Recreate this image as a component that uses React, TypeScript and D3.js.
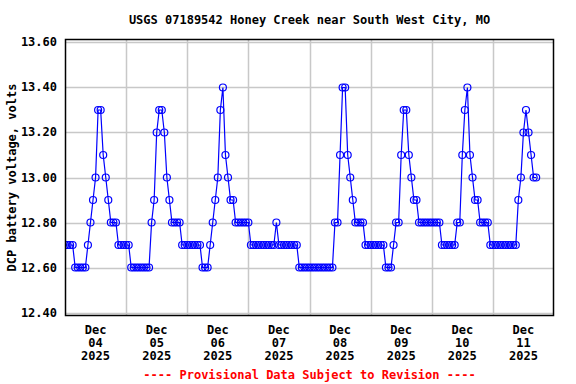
import React, { useRef, useEffect } from 'react'
import { select, scaleTime, scaleLinear, line, timeHour, timeDay } from 'd3'

// Hourly DCP battery voltage readings, one array per day
const dec04 = [12.7, 12.7, 12.7, 12.7, 12.6, 12.6, 12.6, 12.6, 12.6, 12.7, 12.8, 12.9,
    13.0, 13.3, 13.3, 13.1, 13.0, 12.9, 12.8, 12.8, 12.8, 12.7, 12.7, 12.7]
const dec05 = [12.7, 12.7, 12.6, 12.6, 12.6, 12.6, 12.6, 12.6, 12.6, 12.6, 12.8, 12.9,
    13.2, 13.3, 13.3, 13.2, 13.0, 12.9, 12.8, 12.8, 12.8, 12.8, 12.7, 12.7]
const dec06 = [12.7, 12.7, 12.7, 12.7, 12.7, 12.7, 12.6, 12.6, 12.6, 12.7, 12.8, 12.9,
    13.0, 13.3, 13.4, 13.1, 13.0, 12.9, 12.9, 12.8, 12.8, 12.8, 12.8, 12.8]
const dec07 = [12.8, 12.7, 12.7, 12.7, 12.7, 12.7, 12.7, 12.7, 12.7, 12.7, 12.7, 12.8,
    12.7, 12.7, 12.7, 12.7, 12.7, 12.7, 12.7, 12.7, 12.6, 12.6, 12.6, 12.6]
const dec08 = [12.6, 12.6, 12.6, 12.6, 12.6, 12.6, 12.6, 12.6, 12.6, 12.6, 12.8, 12.8,
    13.1, 13.4, 13.4, 13.1, 13.0, 12.9, 12.8, 12.8, 12.8, 12.8, 12.7, 12.7]
const dec09 = [12.7, 12.7, 12.7, 12.7, 12.7, 12.7, 12.6, 12.6, 12.6, 12.7, 12.8, 12.8,
    13.1, 13.3, 13.3, 13.1, 13.0, 12.9, 12.9, 12.8, 12.8, 12.8, 12.8, 12.8]
const dec10 = [12.8, 12.8, 12.8, 12.8, 12.7, 12.7, 12.7, 12.7, 12.7, 12.7, 12.8, 12.8,
    13.1, 13.3, 13.4, 13.1, 13.0, 12.9, 12.9, 12.8, 12.8, 12.8, 12.8, 12.7]
const dec11 = [12.7, 12.7, 12.7, 12.7, 12.7, 12.7, 12.7, 12.7, 12.7, 12.7, 12.9, 13.0,
    13.2, 13.3, 13.2, 13.1, 13.0, 13.0]

const dayLabels = [
    ['Dec', '04', '2025'], ['Dec', '05', '2025'], ['Dec', '06', '2025'], ['Dec', '07', '2025'],
    ['Dec', '08', '2025'], ['Dec', '09', '2025'], ['Dec', '10', '2025'], ['Dec', '11', '2025'],
]
const yTicks = [12.4, 12.6, 12.8, 13.0, 13.2, 13.4, 13.6]

const title = 'USGS 07189542 Honey Creek near South West City, MO'
const yTitle = 'DCP battery voltage, volts'
const footer = '---- Provisional Data Subject to Revision ----'

const startTime = new Date(2025, 11, 4)
const endTime = new Date(2025, 11, 12)

const width = 576
const height = 384
const margin = { top: 39, right: 22, bottom: 68, left: 65 }
const font = "'DejaVu Sans Mono', monospace"

const App = () => {
    const svgRef = useRef<SVGSVGElement>(null)

    useEffect(() => {
        const svg = select(svgRef.current)
        svg.selectAll('*').remove()

        const readings = [...dec04, ...dec05, ...dec06, ...dec07, ...dec08, ...dec09, ...dec10, ...dec11]
            .map((v, i) => ({ time: timeHour.offset(startTime, i), value: v }))

        const xScale = scaleTime()
            .domain([startTime, endTime])
            .range([margin.left, width - margin.right])

        // 12.40 sits 3.5px above the frame bottom, 13.60 3.5px below the top
        const yScale = scaleLinear()
            .domain([12.3845, 13.6155])
            .range([height - margin.bottom, margin.top])

        const days = timeDay.range(startTime, endTime)

        // grid
        svg.append('g')
            .selectAll('line')
            .data(yTicks)
            .join('line')
            .attr('x1', margin.left)
            .attr('x2', width - margin.right)
            .attr('y1', d => Math.round(yScale(d)) + 0.5)
            .attr('y2', d => Math.round(yScale(d)) + 0.5)
            .attr('stroke', '#c8c8c8')
            .attr('stroke-width', 1.5)

        svg.append('g')
            .selectAll('line')
            .data(days.slice(1))
            .join('line')
            .attr('x1', d => Math.round(xScale(d)) + 0.5)
            .attr('x2', d => Math.round(xScale(d)) + 0.5)
            .attr('y1', margin.top)
            .attr('y2', height - margin.bottom)
            .attr('stroke', '#c8c8c8')
            .attr('stroke-width', 1.5)

        // series
        const clip = svg.append('clipPath').attr('id', 'plot-clip')
        clip.append('rect')
            .attr('x', margin.left)
            .attr('y', margin.top)
            .attr('width', width - margin.left - margin.right)
            .attr('height', height - margin.top - margin.bottom)

        const plot = svg.append('g').attr('clip-path', 'url(#plot-clip)')

        const voltLine = line<{ time: Date, value: number }>()
            .x(d => xScale(d.time))
            .y(d => yScale(d.value))

        plot.append('path')
            .datum(readings)
            .attr('d', voltLine)
            .attr('fill', 'none')
            .attr('stroke', '#0000ff')
            .attr('stroke-width', 1.2)

        plot.selectAll('circle')
            .data(readings)
            .join('circle')
            .attr('cx', d => xScale(d.time))
            .attr('cy', d => yScale(d.value))
            .attr('r', 3.5)
            .attr('fill', 'none')
            .attr('stroke', '#0000ff')
            .attr('stroke-width', 1.2)

        // frame
        svg.append('rect')
            .attr('x', margin.left + 0.5)
            .attr('y', margin.top + 0.5)
            .attr('width', width - margin.left - margin.right - 1)
            .attr('height', height - margin.top - margin.bottom - 1)
            .attr('fill', 'none')
            .attr('stroke', '#000')
            .attr('stroke-width', 1.5)

        // y tick labels
        svg.append('g')
            .selectAll('text')
            .data(yTicks)
            .join('text')
            .attr('x', margin.left - 8)
            .attr('y', d => yScale(d) + 4)
            .attr('text-anchor', 'end')
            .text(d => d.toFixed(2))

        // x day labels, centred at noon
        const dayGroups = svg.append('g')
            .selectAll('text')
            .data(days)
            .join('text')
            .attr('text-anchor', 'middle')
        dayGroups.each(function (d, i) {
            const cx = xScale(timeHour.offset(d, 12))
            select(this).selectAll('tspan')
                .data(dayLabels[i])
                .join('tspan')
                .attr('x', cx)
                .attr('y', (_, j) => height - margin.bottom + 18 + j * 13)
                .text(s => s)
        })

        svg.append('text')
            .attr('x', (margin.left + width - margin.right) / 2)
            .attr('y', 24)
            .attr('text-anchor', 'middle')
            .text(title)

        svg.append('text')
            .attr('transform', `translate(16, ${(margin.top + height - margin.bottom) / 2}) rotate(-90)`)
            .attr('text-anchor', 'middle')
            .text(yTitle)

        svg.append('text')
            .attr('x', (margin.left + width - margin.right) / 2)
            .attr('y', 379)
            .attr('text-anchor', 'middle')
            .attr('fill', '#ff0000')
            .text(footer)
    }, [])

    return (
        <svg
            ref={svgRef}
            width={width}
            height={height}
            style={{ position: 'absolute', left: 0, top: 0, background: 'white', fontFamily: font, fontSize: 12, fontWeight: 'bold' }}
        />
    )
}

export default App
